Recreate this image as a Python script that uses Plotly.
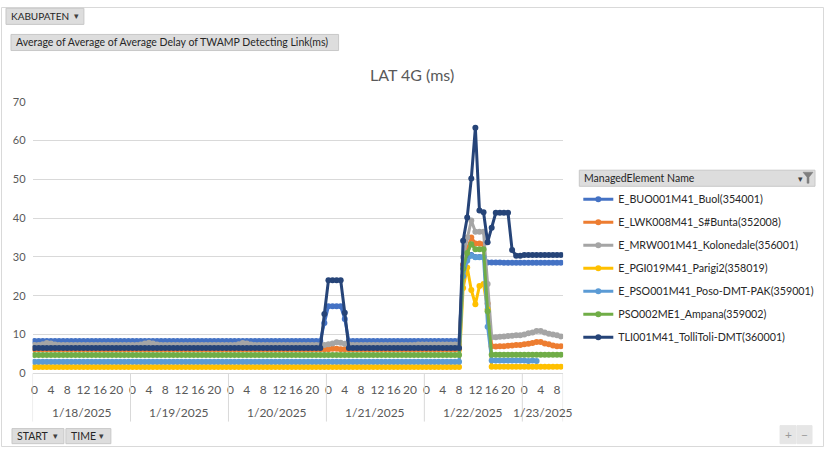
import plotly.graph_objects as go

W, H = 824, 453

days = ["1/18/2025", "1/19/2025", "1/20/2025", "1/21/2025", "1/22/2025", "1/23/2025"]
hours_per_day = [24, 24, 24, 24, 24, 10]
hour_ticks = [0, 4, 8, 12, 16, 20]

series_names = [
    "E_BUO001M41_Buol(354001)",
    "E_LWK008M41_S#Bunta(352008)",
    "E_MRW001M41_Kolonedale(356001)",
    "E_PGI019M41_Parigi2(358019)",
    "E_PSO001M41_Poso-DMT-PAK(359001)",
    "PSO002ME1_Ampana(359002)",
    "TLI001M41_TolliToli-DMT(360001)",
]
series_colors = ["#4472C4", "#ED7D31", "#A5A5A5", "#FFC000", "#5B9BD5", "#70AD47", "#264478"]

buol = [
    8.3, 8.3, 8.3, 8.3, 8.3, 8.3, 8.3, 8.3, 8.3, 8.3, 8.3, 8.3, 8.3, 8.3, 8.3, 8.3, 8.3, 8.3, 8.3, 8.3, 8.3, 8.3, 8.3, 8.3,
    8.3, 8.3, 8.3, 8.3, 8.3, 8.3, 8.3, 8.3, 8.3, 8.3, 8.3, 8.3, 8.3, 8.3, 8.3, 8.3, 8.3, 8.3, 8.3, 8.3, 8.3, 8.3, 8.3, 8.3,
    8.3, 8.3, 8.3, 8.3, 8.3, 8.3, 8.3, 8.3, 8.3, 8.3, 8.3, 8.3, 8.3, 8.3, 8.3, 8.3, 8.3, 8.3, 8.3, 8.3, 8.3, 8.3, 8.3, 13.0,
    17.3, 17.3, 17.3, 17.3, 14.0, 8.3, 8.3, 8.3, 8.3, 8.3, 8.3, 8.3, 8.3, 8.3, 8.3, 8.3, 8.3, 8.3, 8.3, 8.3, 8.3, 8.3, 8.3, 8.3,
    8.3, 8.3, 8.3, 8.3, 8.3, 8.3, 8.3, 8.3, 8.3, 28.0, 30.0, 30.5, 30.0, 30.0, 30.0, 28.6, 28.6, 28.6, 28.6, 28.5, 28.5, 28.5, 28.5, 28.5,
    28.5, 28.5, 28.5, 28.5, 28.5, 28.5, 28.5, 28.5, 28.5, 28.5,
]
bunta = [
    6.2, 6.2, 6.2, 6.2, 6.2, 6.2, 6.2, 6.2, 6.2, 6.2, 6.2, 6.2, 6.2, 6.2, 6.2, 6.2, 6.2, 6.2, 6.2, 6.2, 6.2, 6.2, 6.2, 6.2,
    6.2, 6.2, 6.2, 6.2, 6.2, 6.2, 6.2, 6.2, 6.2, 6.2, 6.2, 6.2, 6.2, 6.2, 6.2, 6.2, 6.2, 6.2, 6.2, 6.2, 6.2, 6.2, 6.2, 6.2,
    6.2, 6.2, 6.2, 6.2, 6.2, 6.2, 6.2, 6.2, 6.2, 6.2, 6.2, 6.2, 6.2, 6.2, 6.2, 6.2, 6.2, 6.2, 6.2, 6.2, 6.2, 6.2, 6.2, 6.2,
    6.2, 6.3, 6.3, 6.2, 6.2, 6.2, 6.2, 6.2, 6.2, 6.2, 6.2, 6.2, 6.2, 6.2, 6.2, 6.2, 6.2, 6.2, 6.2, 6.2, 6.2, 6.2, 6.2, 6.2,
    6.2, 6.2, 6.2, 6.2, 6.2, 6.2, 6.2, 6.2, 6.2, 28.0, 32.0, 35.0, 33.5, 33.5, 33.3, 18.0, 7.0, 6.9, 7.0, 7.0, 7.1, 7.2, 7.3, 7.3,
    7.5, 7.6, 7.8, 8.1, 8.1, 7.7, 7.5, 7.2, 7.0, 7.0,
]
kolonedale = [
    7.3, 7.3, 7.5, 7.8, 7.7, 7.4, 7.3, 7.3, 7.3, 7.3, 7.3, 7.3, 7.3, 7.3, 7.3, 7.3, 7.3, 7.3, 7.3, 7.3, 7.3, 7.3, 7.3, 7.3,
    7.3, 7.3, 7.4, 7.7, 7.9, 7.7, 7.4, 7.3, 7.3, 7.3, 7.3, 7.3, 7.3, 7.3, 7.3, 7.3, 7.3, 7.3, 7.3, 7.3, 7.3, 7.3, 7.3, 7.3,
    7.3, 7.3, 7.5, 7.8, 7.7, 7.4, 7.3, 7.3, 7.3, 7.3, 7.3, 7.3, 7.3, 7.3, 7.3, 7.3, 7.3, 7.3, 7.3, 7.3, 7.3, 7.3, 7.3, 7.3,
    7.5, 7.7, 8.0, 7.9, 7.6, 7.4, 7.3, 7.3, 7.3, 7.3, 7.3, 7.3, 7.3, 7.3, 7.3, 7.3, 7.3, 7.3, 7.3, 7.3, 7.3, 7.3, 7.4, 7.4,
    7.4, 7.4, 7.4, 7.4, 7.4, 7.4, 7.4, 7.4, 7.4, 30.0, 35.0, 39.4, 36.5, 36.5, 36.5, 23.0, 9.3, 9.3, 9.4, 9.5, 9.6, 9.7, 9.8, 9.8,
    10.0, 10.3, 10.5, 10.9, 10.9, 10.5, 10.2, 10.0, 9.8, 9.5,
]
parigi = [
    1.6, 1.6, 1.6, 1.6, 1.6, 1.6, 1.6, 1.6, 1.6, 1.6, 1.6, 1.6, 1.6, 1.6, 1.6, 1.6, 1.6, 1.6, 1.6, 1.6, 1.6, 1.6, 1.6, 1.6,
    1.6, 1.6, 1.6, 1.6, 1.6, 1.6, 1.6, 1.6, 1.6, 1.6, 1.6, 1.6, 1.6, 1.6, 1.6, 1.6, 1.6, 1.6, 1.6, 1.6, 1.6, 1.6, 1.6, 1.6,
    1.6, 1.6, 1.6, 1.6, 1.6, 1.6, 1.6, 1.6, 1.6, 1.6, 1.6, 1.6, 1.6, 1.6, 1.6, 1.6, 1.6, 1.6, 1.6, 1.6, 1.6, 1.6, 1.6, 1.6,
    1.6, 1.6, 1.6, 1.6, 1.6, 1.6, 1.6, 1.6, 1.6, 1.6, 1.6, 1.6, 1.6, 1.6, 1.6, 1.6, 1.6, 1.6, 1.6, 1.6, 1.6, 1.6, 1.6, 1.6,
    1.6, 1.6, 1.6, 1.6, 1.6, 1.6, 1.6, 1.6, 1.6, 22.0, 27.3, 21.5, 17.8, 22.5, 23.0, 16.5, 1.7, 1.7, 1.7, 1.7, 1.7, 1.7, 1.7, 1.7,
    1.7, 1.7, 1.7, 1.7, 1.7, 1.7, 1.7, 1.7, 1.7, 1.7,
]
poso = [
    3.0, 3.0, 3.0, 3.0, 3.0, 3.0, 3.0, 3.0, 3.0, 3.0, 3.0, 3.0, 3.0, 3.0, 3.0, 3.0, 3.0, 3.0, 3.0, 3.0, 3.0, 3.0, 3.0, 3.0,
    3.0, 3.0, 3.0, 3.0, 3.0, 3.0, 3.0, 3.0, 3.0, 3.0, 3.0, 3.0, 3.0, 3.0, 3.0, 3.0, 3.0, 3.0, 3.0, 3.0, 3.0, 3.0, 3.0, 3.0,
    3.0, 3.0, 3.0, 3.0, 3.0, 3.0, 3.0, 3.0, 3.0, 3.0, 3.0, 3.0, 3.0, 3.0, 3.0, 3.0, 3.0, 3.0, 3.0, 3.0, 3.0, 3.0, 3.0, 3.0,
    3.0, 3.0, 3.0, 3.0, 3.0, 3.0, 3.0, 3.0, 3.0, 3.0, 3.0, 3.0, 3.0, 3.0, 3.0, 3.0, 3.0, 3.0, 3.0, 3.0, 3.0, 3.0, 3.0, 3.0,
    3.0, 3.0, 3.0, 3.0, 3.0, 3.0, 3.0, 3.0, 3.0, 25.0, 29.0, 30.3, 29.9, 29.9, 29.9, 12.0, 3.3, 3.3, 3.3, 3.3, 3.3, 3.3, 3.3, 3.3,
    3.3, 3.2, 3.3, 3.2, None, None, None, None, None, None,
]
ampana = [
    4.7, 4.7, 4.7, 4.7, 4.7, 4.7, 4.7, 4.7, 4.7, 4.7, 4.7, 4.7, 4.7, 4.7, 4.7, 4.7, 4.7, 4.7, 4.7, 4.7, 4.7, 4.7, 4.7, 4.7,
    4.7, 4.7, 4.7, 4.7, 4.7, 4.7, 4.7, 4.7, 4.7, 4.7, 4.7, 4.7, 4.7, 4.7, 4.7, 4.7, 4.7, 4.7, 4.7, 4.7, 4.7, 4.7, 4.7, 4.7,
    4.7, 4.7, 4.7, 4.7, 4.7, 4.7, 4.7, 4.7, 4.7, 4.7, 4.7, 4.7, 4.7, 4.7, 4.7, 4.7, 4.7, 4.7, 4.7, 4.7, 4.7, 4.7, 4.7, 4.7,
    4.7, 4.7, 4.7, 4.7, 4.7, 4.7, 4.7, 4.7, 4.7, 4.7, 4.7, 4.7, 4.7, 4.7, 4.7, 4.7, 4.7, 4.7, 4.7, 4.7, 4.7, 4.7, 4.7, 4.7,
    4.7, 4.7, 4.7, 4.7, 4.7, 4.7, 4.7, 4.7, 4.7, 27.0, 31.0, 33.3, 32.0, 32.0, 32.0, 16.0, 4.8, 4.8, 4.8, 4.8, 4.8, 4.8, 4.8, 4.8,
    4.8, 4.8, 4.8, 4.8, 4.8, 4.8, 4.8, 4.8, 4.8, 4.8,
]
tolitoli = [
    6.5, 6.5, 6.5, 6.5, 6.5, 6.5, 6.5, 6.5, 6.5, 6.5, 6.5, 6.5, 6.5, 6.5, 6.5, 6.5, 6.5, 6.5, 6.5, 6.5, 6.5, 6.5, 6.5, 6.5,
    6.5, 6.5, 6.5, 6.5, 6.5, 6.5, 6.5, 6.5, 6.5, 6.5, 6.5, 6.5, 6.5, 6.5, 6.5, 6.5, 6.5, 6.5, 6.5, 6.5, 6.5, 6.5, 6.5, 6.5,
    6.5, 6.5, 6.5, 6.5, 6.5, 6.5, 6.5, 6.5, 6.5, 6.5, 6.5, 6.5, 6.5, 6.5, 6.5, 6.5, 6.5, 6.5, 6.5, 6.5, 6.5, 6.5, 6.5, 15.3,
    24.0, 24.0, 24.0, 24.0, 15.6, 6.5, 6.5, 6.5, 6.5, 6.5, 6.5, 6.5, 6.5, 6.5, 6.5, 6.5, 6.5, 6.5, 6.5, 6.5, 6.5, 6.5, 6.5, 6.5,
    6.5, 6.5, 6.5, 6.5, 6.5, 6.5, 6.5, 6.5, 6.5, 34.2, 40.2, 50.2, 63.3, 42.0, 41.5, 33.8, 37.5, 41.4, 41.4, 41.4, 41.4, 31.8, 30.3, 30.3,
    30.5, 30.5, 30.5, 30.5, 30.5, 30.5, 30.5, 30.5, 30.5, 30.5,
]
series_values = [buol, bunta, kolonedale, parigi, poso, ampana, tolitoli]

y_ticks = [0, 10, 20, 30, 40, 50, 60, 70]

FONT = "Lato, 'Open Sans', sans-serif"
TXT = "#595959"

hour_labels = []
for d, n in zip(days, hours_per_day):
    for h in range(n):
        hour_labels.append(h)
n_cat = len(hour_labels)
xs = list(range(n_cat))

tickvals, ticktext = [], []
for i, h in enumerate(hour_labels):
    if h in hour_ticks:
        tickvals.append(i)
        ticktext.append(str(h))

# page -> figure pixel calibration (vertical)
V_OFF, V_SCALE = 7.7, 0.966

def px(x):
    return x / W

def py(t):
    f = (t - V_OFF) / V_SCALE
    f = min(max(f, 0.5), H - 0.5)
    return 1 - f / H

X0, X1 = 31.6, 562.8
Y0, Y1 = 372, 102

fig = go.Figure()
for name, col, vals in zip(series_names, series_colors, series_values):
    fig.add_trace(go.Scatter(
        x=xs, y=vals, name=name, mode="lines+markers",
        line=dict(color=col, width=3),
        marker=dict(color=col, size=6, symbol="circle"),
        legendgroup=name, connectgaps=False,
    ))

shapes = []
annotations = []

shapes.append(dict(type="rect", xref="paper", yref="paper", x0=px(0.5), x1=px(823.5), y0=py(452), y1=py(0.5),
                   line=dict(color="#D9D9D9", width=1), fillcolor="rgba(0,0,0,0)", layer="below"))

start = 0
for d, n in zip(days, hours_per_day):
    shapes.append(dict(type="line", xref="x", yref="paper", x0=start - 0.5, x1=start - 0.5,
                       y0=py(420), y1=py(372), line=dict(color="#D9D9D9", width=1)))
    annotations.append(dict(x=start + (n - 1) / 2, y=py(411), xref="x", yref="paper", text=d, showarrow=False,
                            font=dict(family=FONT, size=12, color=TXT), xanchor="center", yanchor="middle"))
    start += n
shapes.append(dict(type="line", xref="x", yref="paper", x0=start - 0.5, x1=start - 0.5,
                   y0=py(420), y1=py(372), line=dict(color="#D9D9D9", width=1)))

def button(x0, y0, x1, y1, text, arrow_x=None, size=10.5):
    shapes.append(dict(type="rect", xref="paper", yref="paper", x0=px(x0), x1=px(x1), y0=py(y1), y1=py(y0),
                       line=dict(color="#C8C8C8", width=1), fillcolor="#DDDDDD", layer="below"))
    annotations.append(dict(x=px(x0 + 3), y=py((y0 + y1) / 2), xref="paper", yref="paper",
                            text=text, showarrow=False,
                            font=dict(family=FONT, size=size, color="#262626"), xanchor="left", yanchor="middle"))
    if arrow_x is not None:
        annotations.append(dict(x=px(arrow_x), y=py((y0 + y1) / 2), xref="paper", yref="paper",
                                text="▾", showarrow=False,
                                font=dict(family="DejaVu Sans", size=9, color="#404040"),
                                xanchor="center", yanchor="middle"))

button(5, 9, 83, 25, "KABUPATEN", arrow_x=76, size=10)
button(10, 35, 338, 51, "Average of Average of Average Delay of TWAMP Detecting Link(ms)", size=10.5)
button(11, 427, 63, 442, "START", arrow_x=55, size=10.5)
button(65, 427, 110, 442, "TIME", arrow_x=101, size=10.5)
button(579, 170, 815, 186, "ManagedElement Name", size=10.5)
annotations.append(dict(x=px(800), y=py(179), xref="paper", yref="paper", text="▾", showarrow=False,
                        font=dict(family="DejaVu Sans", size=9, color="#404040"), xanchor="center", yanchor="middle"))
shapes.append(dict(type="path", xref="paper", yref="paper",
                   path=f"M {px(803)} {py(172)} L {px(813)} {py(172)} L {px(809)} {py(177)} L {px(809)} {py(183)} "
                        f"L {px(807)} {py(183)} L {px(807)} {py(177)} Z",
                   line=dict(color="#7F7F7F", width=0.5), fillcolor="#7F7F7F"))

for (bx0, bx1, t) in [(780, 796, "+"), (797, 812, "−")]:
    shapes.append(dict(type="rect", xref="paper", yref="paper", x0=px(bx0), x1=px(bx1), y0=py(442), y1=py(424),
                       line=dict(color="#E6E6E6", width=1), fillcolor="#E6E6E6", layer="below"))
    annotations.append(dict(x=px((bx0 + bx1) / 2), y=py(433), xref="paper", yref="paper", text=t, showarrow=False,
                            font=dict(family=FONT, size=12, color="#9A9A9A"), xanchor="center", yanchor="middle"))

annotations.append(dict(x=px(411), y=py(75), xref="paper", yref="paper", text="LAT 4G (ms)", showarrow=False,
                        font=dict(family=FONT, size=16, color=TXT), xanchor="center", yanchor="middle"))

fig.update_layout(
    width=W, height=H, autosize=False,
    margin=dict(l=0, r=0, t=0, b=0),
    paper_bgcolor="white", plot_bgcolor="white",
    font=dict(family=FONT, size=11, color=TXT),
    showlegend=True,
    legend=dict(x=px(578), y=py(184.5), xanchor="left", yanchor="top", xref="paper", yref="paper",
                font=dict(family=FONT, size=10.7, color="#262626"), itemwidth=30, tracegroupgap=4,
                bgcolor="rgba(0,0,0,0)"),
    xaxis=dict(domain=[px(X0), px(X1)], range=[-0.5, n_cat - 0.5], tickmode="array", tickvals=tickvals,
               ticktext=ticktext, showgrid=False, zeroline=False, showline=True, linecolor="#D9D9D9",
               ticks="", tickfont=dict(family=FONT, size=12, color=TXT), ticklabelstandoff=5, fixedrange=True),
    yaxis=dict(domain=[py(Y0), py(Y1)], range=[0, 70], tickvals=y_ticks, showgrid=True, gridcolor="#D9D9D9",
               gridwidth=1, zeroline=False, showline=False, ticks="", tickfont=dict(family=FONT, size=11, color=TXT),
               ticklabelstandoff=6, fixedrange=True),
    shapes=shapes, annotations=annotations,
)

fig.write_html("out.html", config={"displayModeBar": False},
               post_script="document.body.style.margin='0';document.body.style.padding='0';"
                           "document.body.style.overflow='hidden';")
